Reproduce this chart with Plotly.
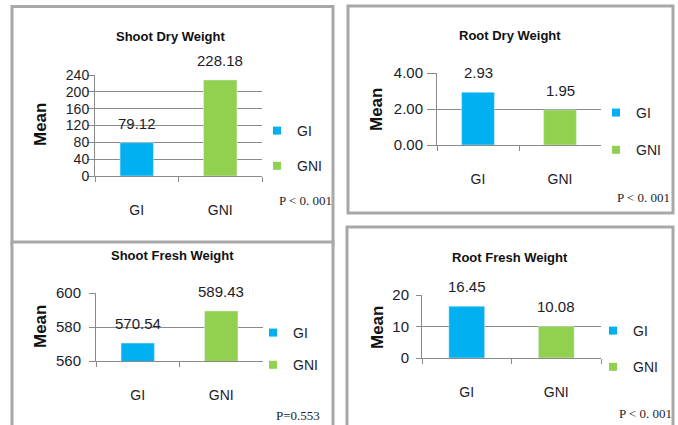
import plotly.graph_objects as go

W, H = 678, 425

categories = ["GI", "GNI"]
titles = ["Shoot Dry Weight", "Root Dry Weight", "Shoot Fresh Weight", "Root Fresh Weight"]
shoot_dry = [79.12, 228.18]
root_dry = [2.93, 1.95]
shoot_fresh = [570.54, 589.43]
root_fresh = [16.45, 10.08]
p_values = ["P < 0. 001", "P < 0. 001", "P=0.553", "P < 0. 001"]
y_ranges = [[0, 240], [0, 4], [560, 600], [0, 20]]
y_dticks = [40, 2, 20, 10]
y_formats = ["d", ".2f", "d", "d"]
series = [shoot_dry, root_dry, shoot_fresh, root_fresh]

colors = ["#00B0F0", "#92D050"]
SANS = "Liberation Sans, Arial, sans-serif"
SERIF = "Liberation Serif, Times New Roman, serif"
TXT = "#1c1c2a"
GRID = "#8a8a8a"


def fx(x):
    return x / W


def fy(y):
    return 1 - y / H


# panel geometry in pixels
panels = [
    dict(xd=(95, 262), yd=(75, 176), title=(170, 37), mean=(40, 125), leg=(257, 115), gap=14, p=(305, 200),
         border=(12, 6.5, 333, 244), ytf=14, tl=7, ts=-5),
    dict(xd=(437, 601), yd=(73, 145), title=(510, 35), mean=(377, 110), leg=(596, 97), gap=16, p=(643, 197),
         border=(348, 6, 673, 213), ytf=15, tl=9, ts=1),
    dict(xd=(96, 263), yd=(293, 361), title=(172, 255), mean=(40, 327), leg=(253, 317), gap=11, p=(298, 415),
         border=(12, 242, 333, 440), ytf=15, tl=6, ts=5),
    dict(xd=(422, 601), yd=(295, 358), title=(510, 257), mean=(377, 328), leg=(593, 315), gap=15, p=(645, 413),
         border=(347, 227, 673, 440), ytf=15, tl=5, ts=4),
]

fig = go.Figure()
shapes = []
annotations = []
layout_axes = {}

for i, pnl in enumerate(panels):
    n = "" if i == 0 else str(i + 1)
    xa, ya = "x" + n, "y" + n
    leg = "legend" if i == 0 else "legend" + str(i + 1)
    vals = series[i]
    for j, cat in enumerate(categories):
        fig.add_trace(go.Bar(
            x=[cat], y=[vals[j]], name=cat, marker_color=colors[j], width=0.4,
            xaxis=xa, yaxis=ya, showlegend=False,
        ))
        fig.add_trace(go.Scatter(
            x=[None], y=[None], mode="markers", name=cat,
            marker=dict(symbol="square", size=8, color=colors[j]),
            xaxis=xa, yaxis=ya, legend=leg, legendgroup=f"{i}-{cat}", showlegend=True,
        ))
        annotations.append(dict(
            x=cat, y=vals[j], xref=xa, yref=ya, text=f"{vals[j]:.2f}",
            showarrow=False, yanchor="bottom", yshift=9,
            font=dict(family=SANS, size=15, color=TXT),
        ))
    bx0, by0, bx1, by1 = pnl["border"]
    shapes.append(dict(type="rect", xref="paper", yref="paper",
                       x0=fx(bx0), x1=fx(bx1), y0=fy(by1), y1=fy(by0),
                       line=dict(color="#a8a8a8", width=3), fillcolor="white", layer="below"))
    layout_axes["xaxis" + n] = dict(
        domain=[fx(pnl["xd"][0]), fx(pnl["xd"][1])], anchor=ya, type="category",
        categoryorder="array", categoryarray=categories,
        showline=True, linecolor=GRID, linewidth=1, ticks="outside", ticklen=5,
        tickcolor=GRID, tickson="boundaries", showgrid=False,
        ticklabelstandoff=21,
        tickfont=dict(family=SANS, size=14, color=TXT), fixedrange=True,
    )
    layout_axes["yaxis" + n] = dict(
        domain=[fy(pnl["yd"][1]), fy(pnl["yd"][0])], anchor=xa,
        range=y_ranges[i], dtick=y_dticks[i], tickformat=y_formats[i],
        showline=True, linecolor=GRID, linewidth=1, ticks="outside", ticklen=pnl["tl"],
        ticklabelstandoff=pnl["ts"],
        tickcolor=GRID, showgrid=True, gridcolor=GRID, gridwidth=1, zeroline=False,
        tickfont=dict(family=SANS, size=pnl["ytf"], color=TXT), fixedrange=True,
    )
    layout_axes[leg] = dict(
        x=fx(pnl["leg"][0]), y=fy(pnl["leg"][1]), xanchor="left", yanchor="top",
        bgcolor="rgba(0,0,0,0)", traceorder="grouped", tracegroupgap=pnl["gap"],
        font=dict(family=SANS, size=14, color=TXT), itemwidth=30,
    )
    annotations.append(dict(
        x=fx(pnl["title"][0]), y=fy(pnl["title"][1]), xref="paper", yref="paper",
        text="<b>" + titles[i] + "</b>", showarrow=False, xanchor="center", yanchor="middle",
        font=dict(family=SANS, size=13, color="#111111"),
    ))
    annotations.append(dict(
        x=fx(pnl["mean"][0]), y=fy(pnl["mean"][1]), xref="paper", yref="paper",
        text="<b>Mean</b>", showarrow=False, textangle=-90, xanchor="center", yanchor="middle",
        font=dict(family=SANS, size=17, color="#111111"),
    ))
    annotations.append(dict(
        x=fx(pnl["p"][0]), y=fy(pnl["p"][1]), xref="paper", yref="paper",
        text=p_values[i], showarrow=False, xanchor="center", yanchor="middle",
        font=dict(family=SERIF, size=13, color=TXT),
    ))

fig.update_layout(
    width=W, height=H, margin=dict(l=0, r=0, t=0, b=0, pad=0, autoexpand=False),
    paper_bgcolor="white", plot_bgcolor="rgba(0,0,0,0)",
    barmode="overlay", shapes=shapes, annotations=annotations,
    **layout_axes,
)

fig.write_html(
    "out.html",
    config={"displayModeBar": False},
    post_script="document.body.style.margin='0';document.body.style.overflow='hidden';",
)
